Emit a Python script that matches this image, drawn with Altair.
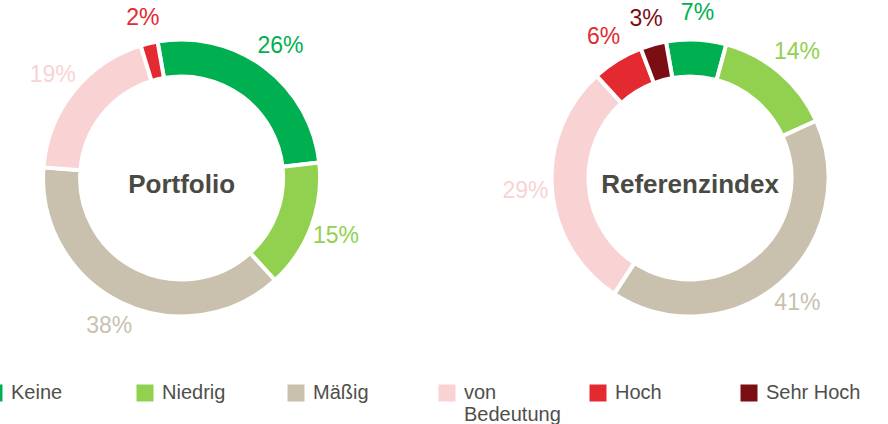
import math
import altair as alt
import pandas as pd

# ---- data ----
categories = ["Keine", "Niedrig", "Mäßig", "von Bedeutung", "Hoch", "Sehr Hoch"]
colors = ["#00b050", "#92d050", "#c9c1ae", "#f9d3d4", "#e42a31", "#7b0e13"]
charts = ["Portfolio", "Referenzindex"]
portfolio_values = [26, 15, 38, 19, 2, 0]
referenz_values = [7, 14, 41, 29, 6, 3]

FONT = "Liberation Sans"

rows = []
for chart, vals in zip(charts, [portfolio_values, referenz_values]):
    for i, (cat, v) in enumerate(zip(categories, vals)):
        rows.append({"chart": chart, "category": cat, "value": v,
                     "order": i, "label": f"{v}%"})
df = pd.DataFrame(rows)
titles = pd.DataFrame({"chart": charts})

start_angle = math.radians(-10)
theta_scale = alt.Scale(domain=[0, 100], range=[start_angle, start_angle + 2 * math.pi])
x_scale = alt.Scale(type="point", domain=charts, range=[181.6, 690], padding=0)
color_scale = alt.Scale(domain=categories, range=colors)

legend = alt.Legend(
    title=None, orient="none", legendX=-16, legendY=383,
    direction="horizontal", columns=6, gridAlign="all",
    symbolType="square", symbolSize=289, symbolStrokeWidth=0, symbolOpacity=1,
    labelFontSize=20, labelFont=FONT, labelColor="#4f4f4a", labelOffset=7,
    columnPadding=27, labelLimit=200, padding=0,
    labelExpr="datum.label == 'von Bedeutung' ? ['von', 'Bedeutung'] : [datum.label, '']",
)

base = (
    alt.Chart(df)
    .transform_filter("datum.value > 0")
    .transform_window(end="sum(value)", groupby=["chart"], sort=[alt.SortField("order")])
    .transform_calculate(start="datum.end - datum.value", mid="datum.end - datum.value / 2")
)

arcs = base.mark_arc(radius=138.5, innerRadius=101.5, stroke="white", strokeWidth=4).encode(
    x=alt.X("chart:N", scale=x_scale, axis=None),
    theta=alt.Theta("start:Q", scale=theta_scale, stack=False),
    theta2="end:Q",
    color=alt.Color("category:N", scale=color_scale, legend=legend),
)

labels = base.mark_text(radius=165, fontSize=23, font=FONT).encode(
    x=alt.X("chart:N", scale=x_scale, axis=None),
    theta=alt.Theta("mid:Q", scale=theta_scale, stack=False),
    text="label:N",
    color=alt.Color("category:N", scale=color_scale, legend=legend),
)

center_titles = alt.Chart(titles).mark_text(
    fontSize=26, fontWeight="bold", font=FONT, color="#4a4a44",
    baseline="alphabetic", dy=14.5,
).encode(
    x=alt.X("chart:N", scale=x_scale, axis=None),
    text="chart:N",
)

chart = (
    alt.layer(arcs, labels, center_titles)
    .properties(
        width=888, height=356,
        autosize=alt.AutoSizeParams(type="none"),
        padding={"left": 0, "top": 0, "right": 0, "bottom": 68},
    )
    .configure_view(strokeWidth=0)
)

chart.save("out.html", embed_options={"renderer": "svg", "actions": False})
